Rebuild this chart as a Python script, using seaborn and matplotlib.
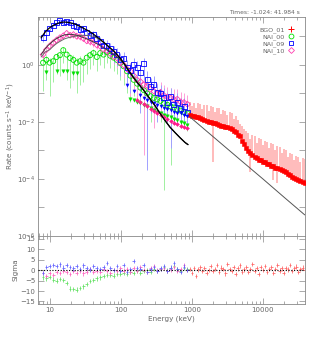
import numpy as np
import matplotlib
matplotlib.use("Agg")
import matplotlib.pyplot as plt
import seaborn as sns
from matplotlib.ticker import FixedLocator, FuncFormatter, LogLocator, NullFormatter
from matplotlib.lines import Line2D

# ---------------- data ----------------
nai_energy = [8.0, 8.9, 9.9, 11.1, 12.4, 13.8, 15.4, 17.2, 19.2, 21.4, 23.8, 26.6, 29.6, 33.0, 36.8,
              41.0, 45.7, 51.0, 56.8, 63.4, 70.7, 78.8, 87.8, 97.9, 109, 122, 136, 151, 169, 188,
              210, 234, 261, 291, 324, 361, 403, 449, 501, 558, 622, 694, 773, 862]

n09_rate = [9, 14, 19, 25, 30, 36, 31, 34, 30, 24, 22, 18, 19, 14, 11, 11.5, 8.5, 6.5, 4.8, 5.0,
            3.8, 2.9, 2.4, 1.5, 1.7, 0.8, 0.65, 1.0, 0.8, 0.55, 1.15, 0.3, 0.17, 0.2, 0.11, 0.1,
            0.075, 0.05, 0.08, 0.04, 0.05, 0.03, 0.035, 0.022]
n09_lo = [6.5, 11, 16, 21, 26, 31, 26, 29, 25, 19, 17, 13, 14, 9.5, 7, 7.5, 5, 3.5, 2.5, 2.5,
          1.8, 1.2, 0.9, 0.4, 0.6, 0.15, 0.1, 0.3, 0.2, 0.02, 0.3, 0.0002, 0.02, 0.05, 0.01, 0.03,
          0.02, 0.01, 0.0012, 0.01, 0.008, 0.006, 0.01, 0.008]
n09_hi = [11, 17, 22, 29, 34, 41, 36, 39, 35, 29, 27, 23, 24, 18, 15, 15, 12, 9.5, 7, 7.5,
          6, 4.6, 3.9, 2.6, 2.8, 1.5, 1.2, 1.7, 1.4, 1.0, 1.8, 0.6, 0.35, 0.4, 0.22, 0.2,
          0.15, 0.11, 0.15, 0.09, 0.1, 0.07, 0.07, 0.05]

n10_rate = [2.3, 3.4, 4.6, 6.0, 7.5, 9.0, 10.5, 12.8, 11.0, 11.6, 10.2, 9.9, 8.5, 7.0, 6.6, 6.1,
            5.0, 4.5, 3.5, 3.2, 2.5, 2.0, 1.75, 1.2, 1.0, 0.72, 0.6, 0.42, 0.3, 0.26, 0.2, 0.19,
            0.14, 0.12, 0.1, 0.11, 0.085, 0.075, 0.07, 0.062, 0.063, 0.05, 0.048, 0.042]
n10_lo = [1.6, 2.6, 3.6, 4.8, 6.2, 7.5, 8.8, 10, 9.5, 9, 8.3, 7.5, 6.7, 5.8, 5.0, 4.3, 3.6, 2.9,
          2.3, 1.9, 1.5, 1.1, 0.8, 0.55, 0.35, 0.25, 0.08, 0.12, 0.06, 0.05, 0.0007, 0.04, 0.03,
          0.006, 0.03, 0.02, 0.025, 0.015, 0.02, 0.012, 0.015, 0.01, 0.012, 0.01]
n10_hi = [3.0, 4.3, 5.7, 7.3, 9.0, 10.8, 12.5, 14.8, 13.2, 13.6, 12.2, 11.9, 10.4, 8.8, 8.3, 7.6,
          6.5, 5.9, 4.8, 4.3, 3.6, 3.0, 2.6, 2.0, 1.7, 1.3, 1.15, 0.85, 0.65, 0.55, 0.45, 0.4,
          0.3, 0.27, 0.24, 0.25, 0.19, 0.17, 0.16, 0.14, 0.14, 0.11, 0.1, 0.09]

n00_rate = [1.2, 1.5, 1.2, 1.35, 1.9, 2.2, 3.3, 2.3, 1.75, 1.5, 1.2, 1.35, 1.2, 1.8, 2.2, 2.6,
            1.9, 2.6, 2.3, 2.8, 2.1, 1.8, 1.5, 1.15, 0.9, 0.6, 0.42, 0.3, 0.22, 0.16, 0.13, 0.1,
            0.08, 0.07, 0.062, 0.055, 0.045, 0.04, 0.035, 0.032, 0.028, 0.025, 0.022, 0.02]
n00_lo = [0.12, 0.3, 0.08, 0.25, 0.5, 0.4, 1.2, 0.3, 0.15, 0.3, 0.1, 0.2, 0.25, 0.5, 0.7, 1.0,
          0.6, 1.0, 0.8, 1.2, 0.8, 0.6, 0.5, 0.3, 0.2, 0.1, 0.05, 0.08, 0.06, 0.04, 0.03, 0.02,
          0.01, 0.02, 0.015, 0.01, 0.00004, 0.01, 0.0003, 0.01, 0.008, 0.007, 0.006, 0.005]
n00_hi = [1.8, 2.2, 1.8, 2.0, 2.7, 3.1, 4.4, 3.2, 2.5, 2.2, 1.8, 2.0, 1.8, 2.6, 3.0, 3.5, 2.7,
          3.4, 3.1, 3.6, 2.9, 2.6, 2.2, 1.8, 1.5, 1.1, 0.85, 0.65, 0.5, 0.4, 0.33, 0.27, 0.22,
          0.2, 0.18, 0.16, 0.14, 0.12, 0.11, 0.1, 0.09, 0.08, 0.07, 0.065]

n09_fill_energy = [122, 151, 188, 210, 234, 261, 291, 324, 361, 403, 449, 501, 558, 622, 694, 773, 862]
n09_fill_rate = [0.2, 0.12, 0.085, 0.07, 0.06, 0.052, 0.046, 0.04, 0.035, 0.031, 0.028, 0.026,
                 0.023, 0.021, 0.02, 0.018, 0.016]
n10_fill_energy = [169, 188, 210, 234, 261, 291, 324, 361, 403, 449, 501, 558, 622, 694, 773, 862]
n10_fill_rate = [0.06, 0.05, 0.042, 0.035, 0.029, 0.024, 0.02, 0.0175, 0.015, 0.013, 0.011,
                 0.0095, 0.0085, 0.0075, 0.0067, 0.006]
n00_fill_energy = [8.9, 12.4, 15.4, 17.2, 21.4, 23.8, 136, 151, 169, 188, 210, 234, 261, 291,
                   324, 361, 403, 449, 501, 558, 622, 694, 773, 862]
n00_fill_rate = [0.57, 0.62, 0.62, 0.6, 0.52, 0.52, 0.065, 0.058, 0.05, 0.045, 0.04, 0.035,
                 0.03, 0.026, 0.023, 0.02, 0.018, 0.016, 0.0145, 0.013, 0.0115, 0.01, 0.009, 0.0078]

n09_resid = [-1.3, 1.5, 2.0, 2.5, 1.8, 2.7, 1.2, 2.4, 1.6, 0.8, 1.9, 0.5, 2.2, 1.0, 0.3, 2.0,
             1.1, 0.4, 1.5, 3.5, 1.0, 0.2, 1.8, -0.5, 2.6, -0.8, 0.4, 4.2, 1.1, 0.6, 2.5, -0.9,
             0.3, 1.5, -0.6, 0.8, 2.0, -0.3, 1.2, 3.2, 0.5, -1.0, 1.7, 0.2]
n10_resid = [-1.5, -3.0, -1.2, -2.2, -0.8, -1.5, -0.3, -1.0, -1.8, -0.5, -1.2, -0.2, -1.6, -0.7,
             0.4, -1.1, -0.3, -0.9, 0.6, -0.4, -1.3, 0.2, -0.6, 1.0, -0.2, 0.5, -0.8, 0.9, -0.4,
             1.3, 0.1, -0.7, 0.8, 2.0, -0.2, 0.6, 1.1, -0.5, 0.3, 1.6, -0.3, 0.7, 2.2, 0.1]
n00_resid = [-3.5, -4.0, -3.2, -4.5, -5.0, -4.2, -4.8, -6.0, -8.8, -9.0, -9.3, -8.5, -7.8, -6.5,
             -5.4, -4.8, -4.0, -3.5, -3.0, -2.5, -2.2, -2.6, -1.8, -2.0, -1.4, -1.8, -1.0, -1.5,
             -0.6, -1.2, -0.4, 0.2, -0.8, 0.5, -0.3, 0.6, 1.4, -0.2, 0.8, 2.0, 0.3, -0.5, 1.2, 0.4]

bgo_energy = [935, 1000, 1070, 1145, 1225, 1311, 1403, 1501, 1606, 1719, 1839, 1968, 2105, 2253,
              2411, 2579, 2760, 2953, 3160, 3381, 3618, 3871, 4142, 4432, 4742, 5074, 5429, 5809,
              6216, 6651, 7117, 7615, 8148, 8718, 9329, 9982, 10680, 11430, 12230, 13080, 14000,
              14980, 16030, 17150, 18350, 19630, 21010, 22480, 24050, 25740, 27540, 29470, 31530,
              33730, 36100, 38600]
bgo_rate = [0.0176, 0.0168, 0.0161, 0.0150, 0.0146, 0.0134, 0.0129, 0.0118, 0.0112, 0.0103,
            0.0099, 0.0092, 0.0089, 0.0082, 0.0080, 0.0074, 0.0072, 0.0067, 0.0066, 0.0061,
            0.0057, 0.0049, 0.0044, 0.0035, 0.0031, 0.0022, 0.0017, 0.00124, 0.00098, 0.00079,
            0.00069, 0.00059, 0.00055, 0.00048, 0.00045, 0.00039, 0.00038, 0.00034, 0.00033,
            0.00029, 0.00028, 0.00025, 0.00024, 0.00022, 0.00021, 0.00019, 0.00018, 0.000155,
            0.00014, 0.000122, 0.00011, 0.0000985, 0.000093, 0.000083, 0.000079, 0.000072]
bgo_hi = [0.05, 0.035, 0.048, 0.03, 0.045, 0.042, 0.028, 0.04, 0.038, 0.025, 0.035, 0.034, 0.022,
          0.031, 0.03, 0.019, 0.027, 0.025, 0.018, 0.022, 0.02, 0.013, 0.016, 0.012, 0.0085,
          0.0075, 0.0055, 0.005, 0.0042, 0.0025, 0.0036, 0.0032, 0.0018, 0.0028, 0.0026, 0.0015,
          0.0022, 0.002, 0.0012, 0.0018, 0.0017, 0.001, 0.0014, 0.0013, 0.0008, 0.0011, 0.001,
          0.0006, 0.0008, 0.00075, 0.00045, 0.00065, 0.0006, 0.00038, 0.00055, 0.0005]
bgo_lo = [0.015, 0.0143, 0.0137, 0.0128, 0.0124, 0.0114, 0.011, 0.01, 0.0095, 0.0088, 0.0084,
          0.0004, 0.0076, 0.007, 0.0068, 0.0063, 0.0061, 0.0057, 0.0056, 0.0052, 0.0048, 0.0042,
          0.0037, 0.003, 0.0026, 0.0019, 0.0014, 0.00105, 0.00083, 0.00018, 0.00059, 0.0005,
          0.00047, 0.00041, 0.00038, 0.00033, 0.00032, 0.00029, 0.00028, 0.000245, 0.00009,
          0.00021, 0.00007, 0.00019, 0.00018, 0.00016, 0.000155, 0.00013, 0.00012, 0.000104,
          0.000094, 0.000084, 0.000079, 0.00007, 0.000067, 0.000061]
bgo_resid = [0.5, -1.2, 1.0, -2.8, 0.3, 1.5, -0.6, 0.9, -1.4, 0.2, 1.8, -0.5, 0.7, 2.5, -0.9,
             1.2, 0.4, -1.6, 3.0, 0.6, -0.3, 1.4, -2.0, 0.8, 2.2, -0.7, 0.3, 1.6, -1.1, 0.5,
             2.8, -0.4, 0.9, -1.8, 1.3, 0.1, 2.0, -0.8, 0.6, 1.5, -1.3, 0.4, 2.6, -0.2, 0.8,
             -1.5, 1.1, 0.3, 2.4, -0.6, 0.9, 1.7, -1.0, 0.5, 1.2, 0.2]

model_nai_energy = [7.5, 8.0, 8.5, 9.4, 10, 11, 12, 13, 14.7, 16, 18, 20, 23, 26, 30, 35, 40, 45,
                    50, 60, 70, 80, 91, 100, 114, 130, 148, 170, 204, 250, 300, 355, 420, 490,
                    580, 680, 800, 880]
model_n09 = [8.9, 11.3, 14, 18, 20.5, 24, 26.5, 29, 31.5, 32, 31, 29.5, 26.5, 23, 19, 15.5, 12.5,
             10, 8.2, 5.6, 4.0, 3.0, 2.1, 1.6, 1.0, 0.6, 0.38, 0.24, 0.14, 0.07, 0.038, 0.02,
             0.011, 0.0066, 0.0042, 0.0028, 0.0019, 0.0016]
model_n10 = [2.3, 2.9, 3.6, 4.8, 5.5, 6.8, 8.0, 9.0, 10.5, 11.3, 11.8, 11.8, 11.2, 10.3, 9.0, 7.7,
             6.6, 5.7, 4.9, 3.7, 2.9, 2.3, 1.8, 1.45, 1.0, 0.6, 0.38, 0.24, 0.14, 0.07, 0.038,
             0.02, 0.011, 0.0066, 0.0042, 0.0028, 0.0019, 0.0016]
model_n00 = [1.9, 2.3, 2.8, 3.2, 3.5, 4.4, 5.3, 6.1, 7.3, 8.2, 9.0, 9.6, 10.2, 10.7, 11.0, 10.8,
             10.2, 9.0, 7.8, 5.6, 4.0, 3.0, 2.1, 1.6, 1.0, 0.6, 0.38, 0.24, 0.14, 0.07, 0.038,
             0.02, 0.011, 0.0066, 0.0042, 0.0028, 0.0019, 0.0016]
model_bgo_energy = [935, 2000, 5000, 10000, 20000, 38800]
model_bgo = [0.015, 0.003, 0.00043, 0.0001, 0.0000225, 0.0000055]

title_text = "Times: -1.024: 41.984 s"
legend_labels = ["BGO_01", "NAI_00", "NAI_09", "NAI_10"]

# ---------------- style ----------------
sns.set_style("ticks")
plt.rcParams["font.family"] = ["DejaVu Sans"]
TXT = "#666666"
SP = "#888888"

C_BLUE, P_BLUE = "#0000ff", "#a0a0ff"
C_GRN, P_GRN = "#00e000", "#a0f0a0"
C_PNK, P_PNK = "#ff3fb0", "#ffa0d8"
C_PNK_F = "#ff1a8c"
C_RED, P_RED = "#ff0000", "#ffa8a8"

fig = plt.figure(figsize=(3.15, 3.38), dpi=100)
ax = fig.add_axes([0.1206, 0.3018, 0.8476, 0.6479])
axr = fig.add_axes([0.1206, 0.1006, 0.8476, 0.2012], sharex=ax)

ax.set_xscale("log")
ax.set_yscale("log")

# error bars (pale)
ax.vlines(bgo_energy, bgo_lo, bgo_hi, color=P_RED, lw=1.1, zorder=1)
ax.vlines(nai_energy, n00_lo, n00_hi, color=P_GRN, lw=0.7, zorder=1)
ax.vlines(nai_energy, n10_lo, n10_hi, color=P_PNK, lw=0.7, zorder=1)
ax.vlines(nai_energy, n09_lo, n09_hi, color=P_BLUE, lw=0.7, zorder=1)

# filled (lower) points
sns.scatterplot(x=bgo_energy, y=bgo_rate, ax=ax, marker="s", s=6, color=C_RED, edgecolor=C_RED,
                linewidth=0.4, zorder=3)
sns.scatterplot(x=n00_fill_energy, y=n00_fill_rate, ax=ax, marker="v", s=6, color=C_GRN,
                edgecolor=C_GRN, linewidth=0.3, zorder=3)
sns.scatterplot(x=n10_fill_energy, y=n10_fill_rate, ax=ax, marker="D", s=4, color=C_PNK_F,
                edgecolor=C_PNK_F, linewidth=0.3, zorder=3)
sns.scatterplot(x=n09_fill_energy, y=n09_fill_rate, ax=ax, marker="v", s=5, color=C_BLUE,
                edgecolor=C_BLUE, linewidth=0.3, zorder=3)

# hollow points
sns.scatterplot(x=nai_energy, y=n00_rate, ax=ax, marker="o", s=13, color="none",
                edgecolor=C_GRN, linewidth=0.6, zorder=2)
sns.scatterplot(x=nai_energy, y=n10_rate, ax=ax, marker="D", s=9, color="none",
                edgecolor=C_PNK, linewidth=0.6, zorder=2)
sns.scatterplot(x=nai_energy, y=n09_rate, ax=ax, marker="s", s=13, color="none",
                edgecolor=C_BLUE, linewidth=0.6, zorder=2)

# models
sns.lineplot(x=model_nai_energy, y=model_n00, ax=ax, color="#6a6a6a", lw=0.7,
             estimator=None, sort=False, zorder=4)
sns.lineplot(x=model_nai_energy, y=model_n10, ax=ax, color="#3a3a3a", lw=0.7,
             estimator=None, sort=False, zorder=4)
sns.lineplot(x=model_nai_energy, y=model_n09, ax=ax, color="#000000", lw=0.9,
             estimator=None, sort=False, zorder=4)
sns.lineplot(x=model_bgo_energy, y=model_bgo, ax=ax, color="#555555", lw=0.7,
             estimator=None, sort=False, zorder=4)

ax.set_xlim(6.78, 39100)
ax.set_ylim(1e-6, 48)

# residuals
def resid(e, r, col):
    e = np.asarray(e, float)
    r = np.asarray(r, float)
    axr.errorbar(e, r, yerr=1.0, xerr=[e - e / 1.045, e * 1.045 - e], fmt="none",
                 ecolor=col, elinewidth=0.55, zorder=2)

resid(bgo_energy, bgo_resid, "#ff6060")
resid(nai_energy, n00_resid, "#60e060")
resid(nai_energy, n10_resid, "#ff60c0")
resid(nai_energy, n09_resid, "#6060ff")
axr.axhline(0, color="black", ls=(0, (1, 1.5)), lw=0.8, zorder=3)
axr.set_ylim(-16.2, 16.3)
axr.set_yticks([-15, -10, -5, 0, 5, 10, 15])

# ticks
for a in (ax, axr):
    a.tick_params(which="both", direction="in", top=True, right=True, colors=SP,
                  labelcolor=TXT, labelsize=5, width=0.5, pad=2)
    a.tick_params(which="major", length=4)
    a.tick_params(which="minor", length=2)
    for s in a.spines.values():
        s.set_color(SP)
        s.set_linewidth(0.6)
    a.set_xlabel("")
    a.set_ylabel("")

axr.xaxis.set_major_locator(LogLocator(base=10))
axr.xaxis.set_minor_locator(LogLocator(base=10, subs=np.arange(2, 10)))
axr.xaxis.set_major_formatter(FuncFormatter(lambda v, p: f"{v:g}"))
axr.xaxis.set_minor_formatter(NullFormatter())
ax.tick_params(axis="x", which="both", labelbottom=False)

ax.yaxis.set_major_locator(FixedLocator([10.0 ** k for k in range(-6, 2)]))
ax.yaxis.set_minor_locator(FixedLocator([]))
ax.yaxis.set_major_formatter(FuncFormatter(
    lambda v, p: f"$10^{{{int(round(np.log10(v)))}}}$" if int(round(np.log10(v))) % 2 == 0 else ""))

ax.set_ylabel("Rate (counts s$^{-1}$ keV$^{-1}$)", fontsize=5.2, color=TXT, labelpad=0.5)
axr.set_ylabel("Sigma", fontsize=5.2, color=TXT, labelpad=1)
axr.set_xlabel("Energy (keV)", fontsize=5.2, color=TXT, labelpad=2)
fig.text(0.952, 0.962, title_text, ha="right", va="center", fontsize=4.3, color=TXT)

handles = [
    Line2D([], [], ls="", marker="+", ms=4, mec=C_RED, mew=0.7),
    Line2D([], [], ls="", marker="o", ms=3.5, mfc="none", mec=C_GRN, mew=0.6),
    Line2D([], [], ls="", marker="s", ms=3.5, mfc="none", mec=C_BLUE, mew=0.6),
    Line2D([], [], ls="", marker="D", ms=3, mfc="none", mec=C_PNK, mew=0.6),
]
leg = ax.legend(handles, legend_labels, loc="upper right", bbox_to_anchor=(0.975, 0.975),
                frameon=False, markerfirst=False, fontsize=4.6, handlelength=0.8,
                handletextpad=0.6, labelspacing=0.12, borderpad=0.2)
for t in leg.get_texts():
    t.set_color(TXT)

fig.savefig("out.png", dpi=100)
